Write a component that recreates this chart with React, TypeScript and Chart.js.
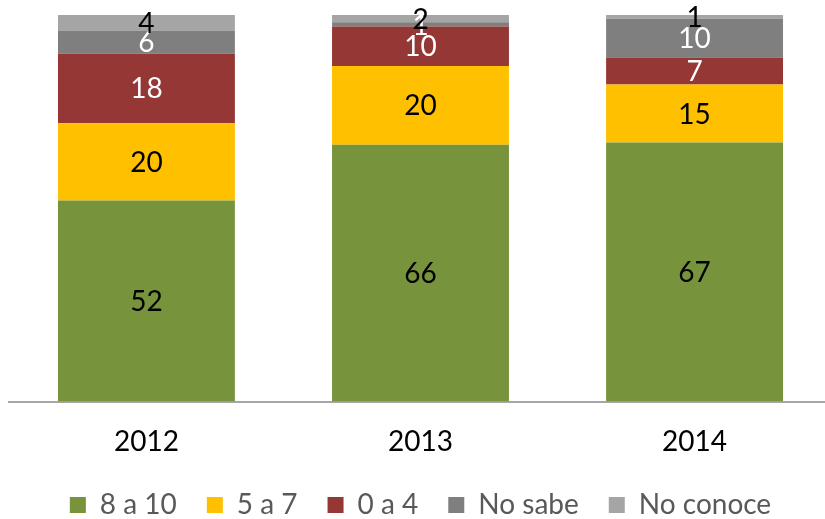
import React, { useEffect, useRef } from "react";
import { Chart, registerables } from "chart.js";

Chart.register(...registerables);

const categories = ["2012", "2013", "2014"];
const seriesNames = ["8 a 10", "5 a 7", "0 a 4", "No sabe", "No conoce"];
const v8a10 = [52, 66.4, 67];
const v5a7 = [20, 20.4, 15];
const v0a4 = [18, 10.2, 7];
const vNoSabe = [6, 1.1, 10];
const vNoConoce = [4, 1.9, 1];
const colors = ["#77933C", "#FFC000", "#953735", "#7F7F7F", "#A5A5A5"];
const labelColors = ["#000000", "#000000", "#FFFFFF", "#FFFFFF", "#000000"];

const FONT = "Lato, 'Open Sans', sans-serif";

const valueLabels = {
  id: "valueLabels",
  afterDatasetsDraw(chart: any) {
    const ctx = chart.ctx;
    ctx.save();
    ctx.font = `28px ${FONT}`;
    ctx.textAlign = "center";
    ctx.textBaseline = "middle";
    chart.data.datasets.forEach((ds: any, i: number) => {
      const meta = chart.getDatasetMeta(i);
      meta.data.forEach((el: any, j: number) => {
        const { x, y, base } = el.getProps(["x", "y", "base"], true);
        ctx.fillStyle = labelColors[i];
        ctx.fillText(String(Math.round(ds.data[j])), x, (y + base) / 2 + 1);
      });
    });
    ctx.restore();
  },
};

export default function App() {
  const ref = useRef<HTMLCanvasElement>(null);
  useEffect(() => {
    document.body.style.margin = "0";
    document.body.style.overflow = "hidden";
    document.documentElement.style.overflow = "hidden";
    const series = [v8a10, v5a7, v0a4, vNoSabe, vNoConoce];
    const chart = new Chart(ref.current!, {
      type: "bar",
      data: {
        labels: categories,
        datasets: series.map((d, i) => ({
          label: seriesNames[i],
          data: d,
          backgroundColor: colors[i],
          borderWidth: 0,
          categoryPercentage: 1,
          barPercentage: 0.6455,
        })),
      },
      options: {
        responsive: false,
        animation: false,
        layout: { padding: { left: 9.4, right: 2.4, top: 15, bottom: -10 } },
        plugins: {
          tooltip: { enabled: false },
          legend: {
            position: "bottom",
            labels: {
              boxWidth: 16,
              boxHeight: 16,
              padding: 30,
              color: "#595959",
              font: { family: FONT, size: 28 },
            },
          },
        },
        scales: {
          x: {
            stacked: true,
            grid: { display: true, drawOnChartArea: false, drawTicks: false },
            border: { display: true, color: "#A6A6A6", width: 2 },
            ticks: { color: "#000000", padding: 23.5, font: { family: FONT, size: 28 } },
            afterFit: (scale: any) => {
              scale.height = 59.5;
            },
          },
          y: {
            stacked: true,
            display: false,
            min: 0,
            max: 100,
          },
        },
      },
      plugins: [valueLabels],
    });
    return () => chart.destroy();
  }, []);
  return (
    <canvas
      ref={ref}
      width={834}
      height={519}
      style={{ display: "block", width: "834px", height: "519px" }}
    />
  );
}
